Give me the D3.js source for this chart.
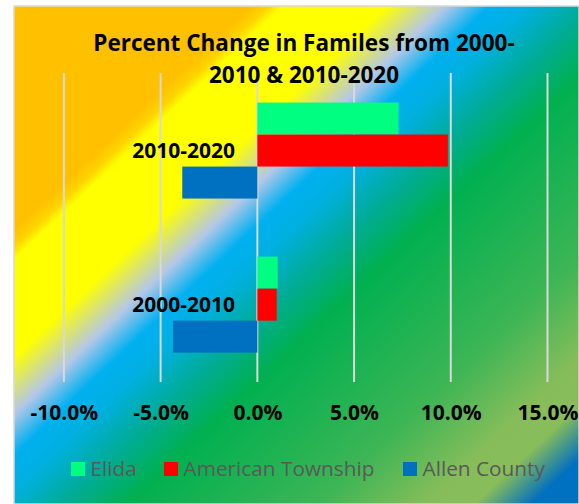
<!DOCTYPE html>
<meta charset="utf-8">
<script src="https://d3js.org/d3.v7.min.js"></script>
<style>
  body { margin: 0; background: #fff; }
  svg { display: block; font-family: "Open Sans", Lato, sans-serif; }
</style>
<div id="chart"></div>
<script>
// data
var periods = ["2010-2020", "2000-2010"];
var series = ["Elida", "American Township", "Allen County"];
var elida = [0.073, 0.0105];
var american = [0.0985, 0.0100];
var allen = [-0.0388, -0.0436];
var xTicks = [-0.10, -0.05, 0, 0.05, 0.10, 0.15];
var colors = ["#00FF80", "#FF0000", "#0070C0"];

var W = 579, H = 504;
var svg = d3.select("#chart").append("svg")
    .attr("width", W)
    .attr("height", H);

// background gradient like the excel chart fill
var defs = svg.append("defs");
var grad = defs.append("linearGradient")
    .attr("id", "bg")
    .attr("gradientUnits", "userSpaceOnUse")
    .attr("x1", 15).attr("y1", 7)
    .attr("x2", 528).attr("y2", 551);
var stops = [
  [0, "#FFC000"], [0.215, "#FFC000"], [0.232, "#FFD400"], [0.245, "#FFFF00"],
  [0.34, "#FFFF00"], [0.395, "#B4C7E7"], [0.435, "#00B0F0"], [0.47, "#00B0E0"],
  [0.525, "#00AC98"], [0.585, "#00B050"], [0.76, "#3DB555"], [0.86, "#86BD5A"],
  [0.905, "#88BD5A"], [0.958, "#0070C0"], [1, "#0070C0"]
];
stops.forEach(function(s) {
  grad.append("stop").attr("offset", s[0]).attr("stop-color", s[1]);
});

svg.append("rect")
    .attr("x", 14).attr("y", 6)
    .attr("width", W - 14).attr("height", H - 6)
    .attr("fill", "url(#bg)")
    .attr("stroke", "#D9D9D9")
    .attr("stroke-width", 1.5);

// scales
var x = d3.scaleLinear()
    .domain([-0.10, 0.15])
    .range([63.9, 547.5]);
var y = d3.scaleBand()
    .domain(periods)
    .range([73.5, 381.7])
    .paddingInner(0.377)
    .paddingOuter(0.1885);
var ySub = d3.scaleBand()
    .domain(series)
    .range([0, y.bandwidth()]);

// gridlines
svg.append("g")
  .selectAll("line")
  .data(xTicks)
  .enter().append("line")
    .attr("x1", function(d) { return x(d); })
    .attr("x2", function(d) { return x(d); })
    .attr("y1", 73)
    .attr("y2", 382)
    .attr("stroke", "#D9D9D9")
    .attr("stroke-width", 2);

// bars
var rows = [];
periods.forEach(function(p, i) {
  rows.push({period: p, name: series[0], v: elida[i], c: colors[0]});
  rows.push({period: p, name: series[1], v: american[i], c: colors[1]});
  rows.push({period: p, name: series[2], v: allen[i], c: colors[2]});
});
svg.append("g")
  .selectAll("rect")
  .data(rows)
  .enter().append("rect")
    .attr("x", function(d) { return x(Math.min(0, d.v)); })
    .attr("width", function(d) { return Math.abs(x(d.v) - x(0)); })
    .attr("y", function(d) { return y(d.period) + ySub(d.name); })
    .attr("height", ySub.bandwidth())
    .attr("fill", function(d) { return d.c; });

// x axis labels (hyphen, not unicode minus)
var pct = d3.format(".1%");
var xAxis = svg.append("g")
    .attr("transform", "translate(0,420)")
    .call(d3.axisBottom(x).tickValues(xTicks)
      .tickFormat(function(d) { return pct(d).replace("\u2212", "-"); })
      .tickSize(0).tickPadding(0));
xAxis.select(".domain").remove();
xAxis.selectAll("text")
    .attr("dy", 0)
    .attr("y", 0)
    .attr("fill", "#000")
    .style("font-family", "'Open Sans', sans-serif")
    .style("font-size", "21px")
    .style("font-weight", "bold");

// category labels
svg.append("g")
  .selectAll("text")
  .data(periods)
  .enter().append("text")
    .attr("x", 235)
    .attr("y", function(d) { return y(d) + y.bandwidth() / 2 + 7.5; })
    .attr("text-anchor", "end")
    .style("font-size", "21px")
    .style("font-weight", "bold")
    .text(function(d) { return d; });

// title
var title = svg.append("text")
    .attr("text-anchor", "middle")
    .style("font-size", "22.5px")
    .style("font-weight", "bold");
title.append("tspan").attr("x", 304).attr("y", 51).text("Percent Change in Familes from 2000-");
title.append("tspan").attr("x", 304).attr("y", 83).text("2010 & 2010-2020");

// legend
var legX = [71, 164, 403];
var leg = svg.append("g")
  .selectAll("g")
  .data(series)
  .enter().append("g")
    .attr("transform", function(d, i) { return "translate(" + legX[i] + ",462)"; });
leg.append("rect")
    .attr("width", 14).attr("height", 14)
    .attr("fill", function(d, i) { return colors[i]; });
leg.append("text")
    .attr("x", 19.5)
    .attr("y", 14)
    .attr("fill", "#595959")
    .style("font-size", "20.8px")
    .text(function(d) { return d; });
</script>
